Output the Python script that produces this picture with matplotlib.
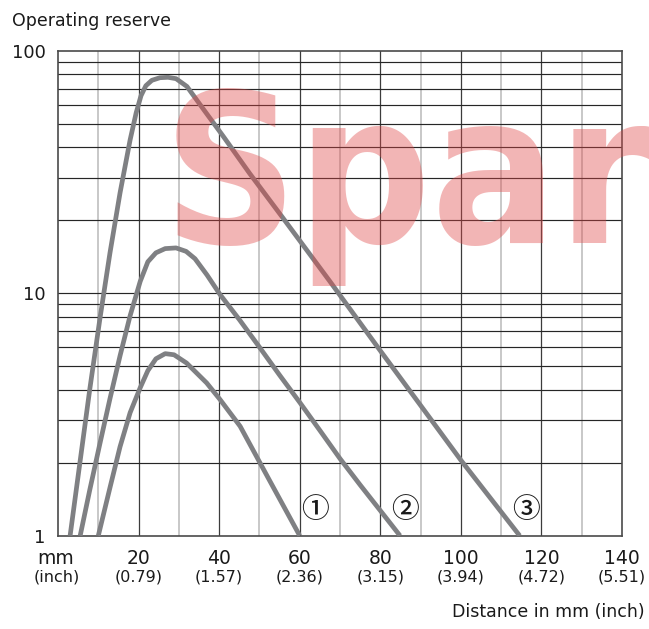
import numpy as np
import matplotlib.pyplot as plt
from matplotlib.ticker import FixedLocator, NullFormatter

# Curve data (distance in mm, operating reserve)
dist_1 = [10.0, 12.9, 15.4, 17.9, 20.4, 22.3, 24.3, 26.6, 28.8, 31.9, 36.9, 40.2, 45.2, 52.6, 60.0]
reserve_1 = [1.0, 1.58, 2.33, 3.22, 4.08, 4.8, 5.37, 5.64, 5.58, 5.16, 4.27, 3.65, 2.83, 1.68, 1.0]

dist_2 = [5.5, 7.9, 10.4, 12.9, 15.4, 17.9, 20.4, 22.3, 24.3, 26.6, 29.3, 31.8, 34.0, 37.0, 40.2,
          45.0, 50.0, 55.0, 60.0, 65.0, 70.0, 75.0, 80.0, 84.9]
reserve_2 = [1.0, 1.55, 2.4, 3.68, 5.53, 8.09, 11.2, 13.5, 14.7, 15.3, 15.4, 14.9, 13.9, 11.9, 9.9,
             7.8, 6.0, 4.6, 3.55, 2.72, 2.08, 1.62, 1.27, 1.0]

dist_3 = [3.0, 5.5, 7.9, 10.4, 12.9, 15.4, 17.9, 19.4, 20.6, 21.8, 23.3, 25.3, 27.3, 29.3, 32.0,
          36.1, 41.0, 47.6, 55.9, 67.5, 80.0, 90.0, 100.0, 114.6]
reserve_3 = [1.0, 2.04, 4.04, 7.86, 14.7, 26.0, 43.0, 55.6, 65.4, 71.9, 75.7, 77.6, 77.9, 76.9, 71.4,
             57.5, 44.5, 31.2, 20.4, 11.2, 5.8, 3.45, 2.05, 1.0]

curve_labels = ['①', '②', '③']
label_pos = [(63.8, 1.28), (86.2, 1.28), (116.2, 1.28)]

mm_ticks = [20, 40, 60, 80, 100, 120, 140]
inch_labels = ['(0.79)', '(1.57)', '(2.36)', '(3.15)', '(3.94)', '(4.72)', '(5.51)']

curve_color = '#7f8083'

fig = plt.figure(figsize=(6.49, 6.29), dpi=100)
ax = fig.add_axes([0.0894, 0.1483, 0.8690, 0.7706])
ax.set_yscale('log')
ax.set_xlim(0, 140)
ax.set_ylim(1, 100)

# grid lines
for xv in range(10, 140, 10):
    if xv % 20 == 0:
        ax.axvline(xv, color='#3c3c3c', lw=0.9, zorder=1)
    else:
        ax.axvline(xv, color='#c4c4c4', lw=1.3, zorder=1)
for dec in [1, 10]:
    for m in range(2, 10):
        ax.axhline(m * dec, color='#262626', lw=0.85, zorder=1)
ax.axhline(10, color='#262626', lw=0.85, zorder=1)

for s in ax.spines.values():
    s.set_color('#4a4a4a')
    s.set_linewidth(1.2)

for d, r in [(dist_1, reserve_1), (dist_2, reserve_2), (dist_3, reserve_3)]:
    ax.plot(d, r, color=curve_color, lw=3.4, solid_capstyle='butt',
            solid_joinstyle='round', zorder=3)

for lab, (lx, ly) in zip(curve_labels, label_pos):
    ax.text(lx, ly, lab, fontsize=20, ha='center', va='center', color='#1a1a1a',
            family=['Noto Sans CJK JP', 'DejaVu Sans'], fontweight='medium', zorder=4)

# y axis
ax.yaxis.set_major_locator(FixedLocator([1, 10, 100]))
ax.yaxis.set_minor_formatter(NullFormatter())
ax.set_yticklabels(['1', '10', '100'])
ax.tick_params(axis='y', which='both', length=0, pad=9, labelsize=13, labelcolor='#1a1a1a')
ax.tick_params(axis='x', which='both', length=0)
ax.set_xticks([])

# x axis labels (mm over inch)
ax.annotate('mm', xy=(0, 0), xycoords=('data', 'axes fraction'), xytext=(-2, -16.5),
            textcoords='offset points', ha='center', va='center', fontsize=13.5, color='#1a1a1a')
ax.annotate('(inch)', xy=(0, 0), xycoords=('data', 'axes fraction'), xytext=(-1, -29.5),
            textcoords='offset points', ha='center', va='center', fontsize=11.5, color='#1a1a1a')
for mm, inch in zip(mm_ticks, inch_labels):
    ax.annotate(str(mm), xy=(mm, 0), xycoords=('data', 'axes fraction'), xytext=(0, -16.5),
                textcoords='offset points', ha='center', va='center', fontsize=13.5, color='#1a1a1a')
    ax.annotate(inch, xy=(mm, 0), xycoords=('data', 'axes fraction'), xytext=(0, -29.5),
                textcoords='offset points', ha='center', va='center', fontsize=11.5, color='#1a1a1a')

fig.text(12 / 649, 1 - 21 / 629, 'Operating reserve', fontsize=12.5, ha='left', va='center',
         color='#1a1a1a')
fig.text(645 / 649, 1 - 612 / 629, 'Distance in mm (inch)', fontsize=12.5, ha='right',
         va='center', color='#1a1a1a')

# watermark
fig.text(163 / 649, 1 - 243 / 629, 'Spare', fontsize=150, family='DejaVu Sans',
         fontweight='bold', fontstretch='condensed', color='#e04848', alpha=0.4,
         ha='left', va='baseline', zorder=10)

fig.savefig('out.png', dpi=100)
